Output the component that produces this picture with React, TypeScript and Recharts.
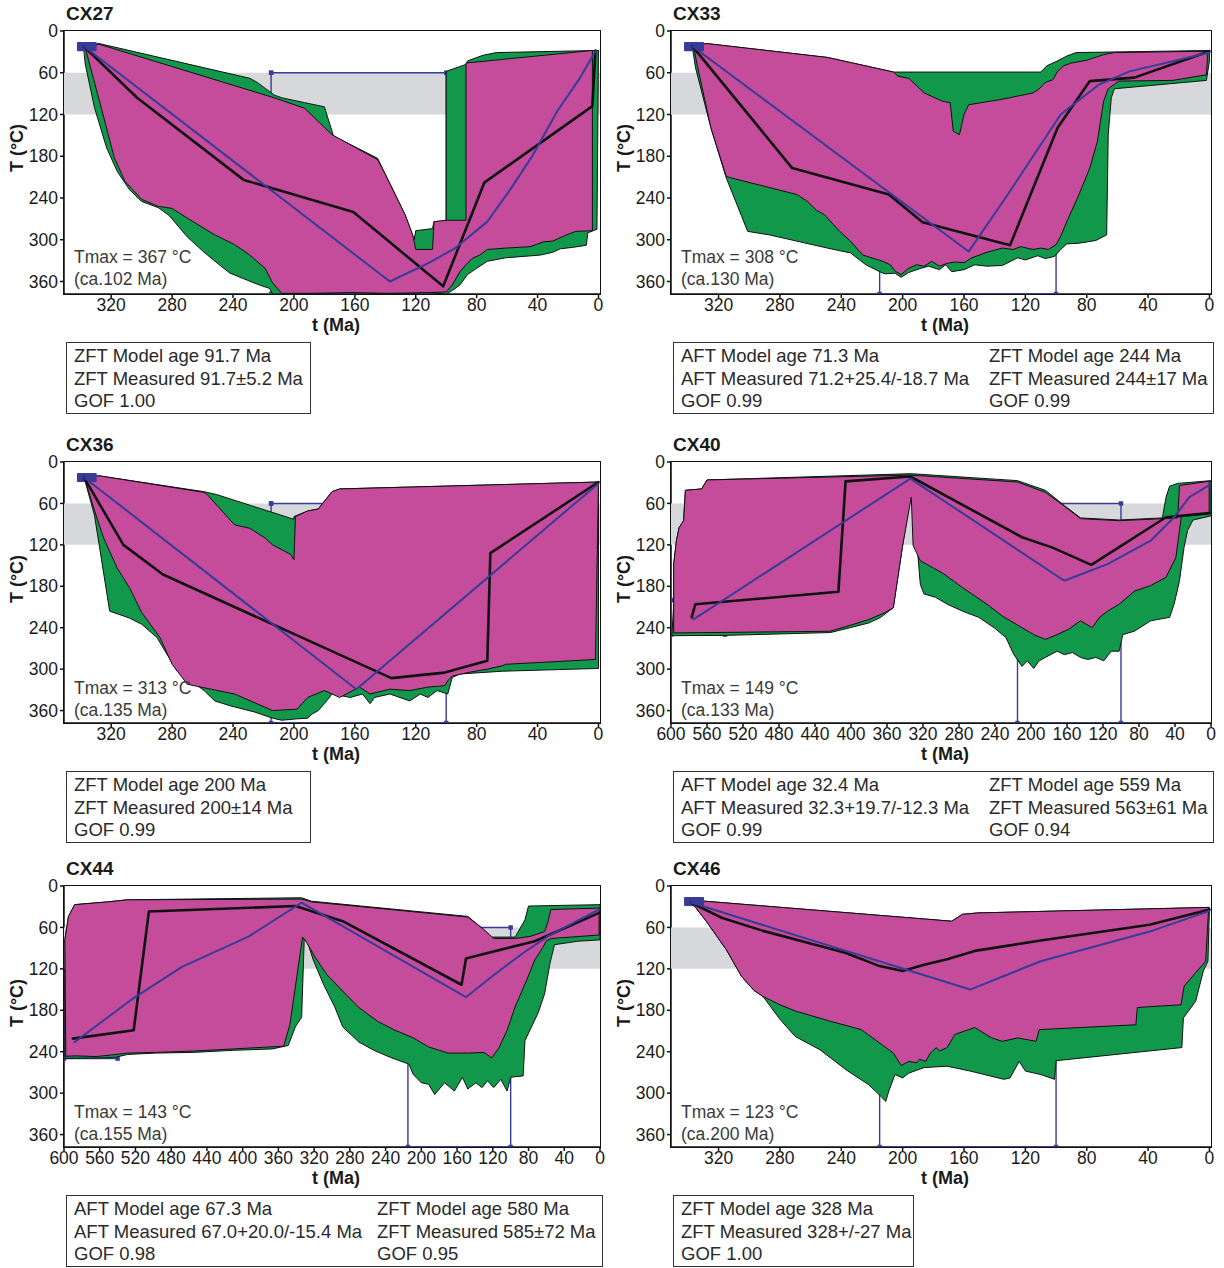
import React from 'react';
import { ComposedChart, XAxis, YAxis, Scatter } from 'recharts';

const FONT = '"Liberation Sans", Arial, Helvetica, sans-serif';
const GREEN = '#12984a';
const MAGENTA = '#c44c9b';
const BAND = '#d6d8db';
const BLUE = '#393b98';
const INK = '#1a1a1a';

// ---------- axes ----------
const yTicks = [0, 60, 120, 180, 240, 300, 360];
const yDomain = [0, 378];
const xTicks350 = [320, 280, 240, 200, 160, 120, 80, 40, 0];
const xTicks600 = [600, 560, 520, 480, 440, 400, 360, 320, 280, 240, 200, 160, 120, 80, 40, 0];
const xDomain350 = [-1, 351];
const xDomain600 = [0, 600];

// ---------- shared constraints (t Ma, T °C) ----------
const band350 = [[351, 60], [-1, 60], [-1, 120], [351, 120]];
const band600 = [[600, 60], [0, 60], [0, 120], [600, 120]];
const box215 = [[215, 60], [100, 60], [100, 378], [215, 378], [215, 60]];
const box600 = [[600, 200], [540, 200], [540, 250], [600, 250], [600, 200]];
const start350 = [[342, 17], [330, 17], [330, 28], [342, 28]];

// ---------- CX27 ----------
const cx27Green = [[338,22],[328,18],[229,68],[224,74],[213,92],[208,96],[193,103],[180,109],[174,151],[145,183],[140,206],[127,264],[121,300],[120,287],[109,284],[108,274],[100,273],[100,58],[87,48],[86,43],[76,35],[67,31],[0,28],[1,285],[7,290],[8,308],[17,311],[25,313],[30,318],[38,322],[61,326],[73,331],[80,341],[86,350],[91,365],[96,373],[100,378],[112,376],[137,377],[163,376],[188,377],[214,378],[216,370],[224,364],[242,348],[249,336],[259,318],[270,296],[282,265],[289,254],[300,245],[308,228],[316,202],[323,168],[331,110],[337,48]];
const cx27Magenta = [[337,22],[328,19],[213,96],[193,111],[175,149],[145,185],[140,206],[127,264],[122,293],[120,314],[109,314],[108,274],[100,272],[87,272],[87,46],[4,28],[4,287],[15,288],[22,294],[30,302],[36,303],[45,310],[61,312],[73,314],[78,322],[83,327],[87,336],[91,346],[96,365],[100,375],[112,376],[137,377],[163,376],[188,377],[208,377],[214,362],[219,341],[229,322],[239,307],[252,293],[270,269],[280,255],[289,252],[300,242],[311,216],[318,182],[326,115],[335,41]];
const cx27Best = [[338,22],[303,96],[233,214],[161,260],[102,367],[75,218],[4,108],[2,28]];
const cx27Mean = [[338,22],[137,360],[112,334],[94,312],[73,274],[58,228],[43,178],[27,115],[12,67],[2,29]];

// ---------- CX33 ----------
const cx33Green = [[337,22],[328,18],[249,38],[206,59],[110,59],[106,50],[100,44],[93,36],[87,31],[0,28],[0,43],[2,71],[62,83],[64,96],[66,149],[67,293],[74,301],[85,305],[93,306],[97,314],[101,324],[107,327],[112,323],[120,329],[125,326],[135,337],[145,338],[153,336],[160,343],[168,346],[172,336],[176,343],[183,338],[188,341],[196,347],[201,354],[205,348],[211,349],[213,348],[224,336],[234,319],[249,312],[269,302],[287,293],[301,288],[315,211],[325,139],[335,53],[337,24]];
const cx33Magenta = [[336,22],[328,18],[249,38],[206,59],[203,65],[196,68],[186,89],[174,101],[169,103],[167,144],[163,149],[160,120],[157,106],[135,98],[115,89],[111,83],[107,74],[102,70],[99,58],[95,50],[90,46],[80,42],[69,34],[62,31],[1,29],[2,63],[24,71],[59,72],[66,83],[69,101],[73,158],[78,197],[86,240],[92,269],[97,295],[100,307],[105,314],[110,312],[115,314],[123,310],[128,314],[135,312],[140,315],[145,318],[150,322],[155,326],[160,333],[166,332],[171,334],[176,338],[181,331],[186,338],[191,336],[196,341],[201,350],[205,345],[208,336],[213,331],[226,322],[234,302],[241,288],[251,264],[256,258],[262,245],[269,235],[312,211],[315,209],[325,139],[334,48]];
const cx33Best = [[337,22],[272,197],[209,235],[187,275],[130,308],[99,139],[78,72],[49,67],[0,29]];
const cx33Mean = [[337,22],[157,317],[133,240],[97,120],[72,77],[52,58],[0,31]];

// ---------- CX36 ----------
const cx36Green = [[338,22],[328,20],[259,43],[251,47],[200,83],[200,79],[191,71],[184,68],[175,43],[170,39],[0,29],[0,299],[63,303],[91,307],[96,312],[99,336],[106,331],[112,341],[117,336],[124,346],[137,336],[147,341],[150,350],[155,336],[163,341],[175,336],[180,350],[184,360],[188,365],[191,371],[198,372],[208,374],[214,371],[226,362],[242,353],[252,346],[259,331],[277,302],[290,254],[300,235],[308,226],[321,216],[331,77],[337,29]];
const cx36Magenta = [[337,22],[328,20],[259,44],[257,47],[239,91],[229,96],[219,110],[214,120],[202,134],[200,142],[199,79],[191,71],[184,68],[175,43],[170,39],[0,29],[2,286],[61,293],[63,295],[73,300],[86,305],[96,310],[99,317],[101,324],[112,326],[124,331],[137,329],[150,336],[157,326],[170,341],[180,331],[191,341],[198,358],[214,360],[239,336],[270,322],[280,293],[288,254],[300,218],[308,182],[316,154],[325,110],[330,77],[336,34]];
const cx36Best = [[338,22],[312,120],[286,163],[136,313],[101,305],[73,288],[71,132],[0,29]];
const cx36Mean = [[338,22],[159,329],[0,31]];

// ---------- CX40 ----------
const cx40Green = [[599,251],[597,206],[597,148],[594,114],[591,95],[586,85],[584,41],[566,39],[560,26],[336,17],[332,17],[215,27],[184,41],[163,63],[145,81],[102,84],[54,81],[50,51],[46,35],[37,31],[0,27],[0,78],[20,84],[26,99],[30,124],[35,172],[41,206],[46,225],[67,230],[85,245],[98,250],[102,274],[111,274],[119,288],[128,283],[137,286],[145,283],[154,276],[163,279],[171,274],[184,283],[191,288],[197,299],[204,288],[210,296],[219,279],[228,254],[241,240],[258,225],[276,216],[293,206],[306,196],[319,191],[323,177],[328,99],[332,49],[334,46],[343,124],[353,211],[367,225],[380,233],[401,240],[423,247],[536,251]];
const cx40Magenta = [[597,247],[597,206],[597,148],[594,114],[591,95],[586,85],[584,41],[566,39],[560,26],[334,19],[215,29],[184,44],[163,64],[145,82],[102,85],[37,81],[35,34],[2,28],[2,75],[33,79],[35,99],[39,138],[50,167],[67,179],[85,187],[102,206],[115,216],[124,225],[132,240],[145,230],[158,242],[171,250],[184,257],[197,250],[210,240],[232,223],[249,206],[276,182],[297,162],[323,143],[331,121],[333,51],[343,124],[353,211],[362,218],[380,228],[397,235],[423,245]];
const cx40Best = [[577,225],[573,206],[414,188],[406,28],[334,21],[210,109],[176,124],[133,149],[50,80],[2,74]];
const cx40Mean = [[575,228],[334,24],[163,172],[115,148],[67,114],[41,80],[24,51],[0,32]];

// ---------- CX44 ----------
const cx44Green = [[599,249],[599,78],[595,44],[588,27],[551,23],[529,20],[334,17],[323,22],[148,44],[135,58],[121,74],[95,74],[84,49],[80,29],[0,27],[0,78],[25,80],[51,85],[56,112],[62,156],[69,183],[84,224],[86,275],[100,277],[104,297],[111,280],[119,292],[126,282],[132,292],[139,285],[148,294],[154,277],[163,297],[174,285],[185,302],[192,287],[200,285],[209,273],[214,258],[235,248],[253,238],[270,226],[288,204],[297,175],[310,141],[321,107],[327,83],[331,74],[334,190],[341,204],[349,231],[367,236],[411,238],[455,241],[498,242],[529,244],[542,248],[560,249]];
const cx44Magenta = [[598,246],[599,78],[595,44],[588,27],[551,23],[529,20],[334,19],[323,23],[148,45],[130,63],[119,76],[95,76],[78,73],[62,66],[58,51],[55,34],[1,32],[1,71],[54,76],[60,79],[64,89],[73,107],[82,136],[95,175],[104,209],[113,234],[121,249],[130,241],[148,242],[170,242],[192,233],[209,220],[231,208],[249,196],[270,176],[292,147],[306,128],[319,103],[330,78],[333,74],[341,146],[347,200],[354,232],[411,236],[455,239],[498,241],[529,242],[542,244],[564,247],[586,246]];
const cx44Best = [[590,221],[522,209],[505,37],[341,29],[288,51],[155,143],[150,105],[73,80],[1,39]];
const cx44Mean = [[588,226],[525,165],[468,117],[393,73],[334,24],[150,161],[121,131],[86,97],[56,71],[1,34]];

// ---------- CX46 ----------
const cx46Green = [[339,24],[329,22],[168,51],[161,41],[151,39],[0,31],[1,109],[4,123],[9,167],[17,191],[18,234],[100,253],[101,280],[110,273],[120,268],[124,254],[130,278],[134,280],[156,268],[171,261],[186,263],[196,271],[200,278],[205,273],[209,297],[211,312],[214,305],[222,288],[237,266],[254,237],[270,218],[280,193],[291,160],[297,151],[305,131],[315,92],[328,51],[335,31]];
const cx46Magenta = [[338,24],[329,22],[168,51],[161,41],[151,39],[0.5,31],[2.5,109],[16.5,145],[18.5,172],[47,176],[48,201],[111,208],[113,225],[125,220],[135,225],[142,220],[153,205],[166,215],[171,234],[176,239],[178,234],[182,242],[185,254],[189,251],[191,256],[196,254],[201,260],[206,242],[227,208],[247,196],[270,181],[280,172],[291,160],[297,151],[305,131],[315,92],[328,51],[335,31]];
const cx46Best = [[338,24],[318,46],[291,65],[257,85],[237,97],[215,116],[200,123],[186,114],[171,106],[153,94],[110,79],[39,56],[0,34]];
const cx46Mean = [[338,24],[156,150],[110,109],[39,66],[0,36]];

// ---------- texts ----------
const titles = ['CX27', 'CX33', 'CX36', 'CX40', 'CX44', 'CX46'];
const tmaxTexts = [
  ['Tmax = 367 °C', '(ca.102 Ma)'],
  ['Tmax = 308 °C', '(ca.130 Ma)'],
  ['Tmax = 313 °C', '(ca.135 Ma)'],
  ['Tmax = 149 °C', '(ca.133 Ma)'],
  ['Tmax = 143 °C', '(ca.155 Ma)'],
  ['Tmax = 123 °C', '(ca.200 Ma)'],
];
const infoTexts = [
  [['ZFT Model age 91.7 Ma', 'ZFT Measured 91.7±5.2 Ma', 'GOF 1.00']],
  [['AFT Model age 71.3 Ma', 'AFT Measured 71.2+25.4/-18.7 Ma', 'GOF 0.99'], ['ZFT Model age 244 Ma', 'ZFT Measured 244±17 Ma', 'GOF 0.99']],
  [['ZFT Model age 200 Ma', 'ZFT Measured 200±14 Ma', 'GOF 0.99']],
  [['AFT Model age 32.4 Ma', 'AFT Measured 32.3+19.7/-12.3 Ma', 'GOF 0.99'], ['ZFT Model age 559 Ma', 'ZFT Measured 563±61 Ma', 'GOF 0.94']],
  [['AFT Model age 67.3 Ma', 'AFT Measured 67.0+20.0/-15.4 Ma', 'GOF 0.98'], ['ZFT Model age 580 Ma', 'ZFT Measured 585±72 Ma', 'GOF 0.95']],
  [['ZFT Model age 328 Ma', 'ZFT Measured 328+/-27 Ma', 'GOF 1.00']],
];

type Pt = { t: number; T: number };
const toPts = (a: number[][]): Pt[] => a.map(([t, T]) => ({ t, T }));

const polyLine = (fill: string, stroke: string, sw: number, close: boolean) => (props: any) => {
  const raw = props && props.points ? props.points : [];
  const pts = raw.filter((p: any) => p && Number.isFinite(p.x) && Number.isFinite(p.y));
  if (pts.length < 2) return <g />;
  const d =
    pts.map((p: any, i: number) => (i ? 'L' : 'M') + p.x.toFixed(2) + ',' + p.y.toFixed(2)).join(' ') +
    (close ? ' Z' : '');
  return (
    <path d={d} fill={fill} stroke={stroke} strokeWidth={sw} strokeLinejoin="round" strokeLinecap="round" />
  );
};
const noShape = () => <g />;
const cornerShape = (p: any) => <rect x={p.cx - 2.2} y={p.cy - 2.2} width={4.4} height={4.4} fill={BLUE} />;

type PanelCfg = {
  idx: number;
  x0: number;
  top: number;
  plotW: number;
  plotH: number;
  wide: boolean;
  green: number[][];
  magenta: number[][];
  best: number[][];
  mean: number[][];
  infoW: number;
  col2: number;
};

const LEFT_X = 0;
const RIGHT_X = 607;
const panels: PanelCfg[] = [
  { idx: 0, x0: LEFT_X, top: 31, plotW: 536, plotH: 263, wide: false, green: cx27Green, magenta: cx27Magenta, best: cx27Best, mean: cx27Mean, infoW: 245, col2: 0 },
  { idx: 1, x0: RIGHT_X, top: 31, plotW: 540, plotH: 263, wide: false, green: cx33Green, magenta: cx33Magenta, best: cx33Best, mean: cx33Mean, infoW: 541, col2: 315 },
  { idx: 2, x0: LEFT_X, top: 462, plotW: 536, plotH: 261, wide: false, green: cx36Green, magenta: cx36Magenta, best: cx36Best, mean: cx36Mean, infoW: 245, col2: 0 },
  { idx: 3, x0: RIGHT_X, top: 462, plotW: 540, plotH: 261, wide: true, green: cx40Green, magenta: cx40Magenta, best: cx40Best, mean: cx40Mean, infoW: 541, col2: 315 },
  { idx: 4, x0: LEFT_X, top: 886, plotW: 536, plotH: 261, wide: true, green: cx44Green, magenta: cx44Magenta, best: cx44Best, mean: cx44Mean, infoW: 537, col2: 310 },
  { idx: 5, x0: RIGHT_X, top: 886, plotW: 540, plotH: 261, wide: false, green: cx46Green, magenta: cx46Magenta, best: cx46Best, mean: cx46Mean, infoW: 241, col2: 0 },
];

const tickStyle = { fontSize: 17.5, fill: INK, fontFamily: FONT };

function Panel({ p }: { p: PanelCfg }) {
  const plotLeft = p.x0 + 64;
  const boxes = p.wide ? [box600, box215] : [box215];
  const info = infoTexts[p.idx];
  const tm = tmaxTexts[p.idx];
  return (
    <>
      <div style={{ position: 'absolute', left: p.x0, top: p.top - 10 }}>
        <ComposedChart
          width={64 + p.plotW + 8}
          height={10 + p.plotH + 40}
          margin={{ top: 10, right: 8, bottom: 0, left: 0 }}
        >
          <XAxis
            type="number"
            dataKey="t"
            domain={p.wide ? xDomain600 : xDomain350}
            ticks={p.wide ? xTicks600 : xTicks350}
            reversed
            allowDataOverflow
            interval={0}
            height={40}
            tick={tickStyle}
            tickSize={4}
            tickMargin={1}
            stroke="#111"
            strokeWidth={1.5}
          />
          <YAxis
            type="number"
            dataKey="T"
            domain={yDomain}
            ticks={yTicks}
            reversed
            allowDataOverflow
            interval={0}
            width={64}
            tick={tickStyle}
            tickSize={4}
            tickMargin={2}
            stroke="#111"
            strokeWidth={1.5}
          />
          <Scatter
            data={toPts(p.wide ? band600 : band350)}
            line={polyLine(BAND, 'none', 0, true)}
            shape={noShape}
            isAnimationActive={false}
            legendType="none"
          />
          {boxes.map((b, i) => (
            <Scatter
              key={'box' + i}
              data={toPts(b)}
              line={polyLine('none', BLUE, 1.4, false)}
              shape={cornerShape}
              isAnimationActive={false}
              legendType="none"
            />
          ))}
          <Scatter
            data={toPts(p.green)}
            line={polyLine(GREEN, '#111', 1, true)}
            shape={noShape}
            isAnimationActive={false}
            legendType="none"
          />
          <Scatter
            data={toPts(p.magenta)}
            line={polyLine(MAGENTA, '#111', 1, true)}
            shape={noShape}
            isAnimationActive={false}
            legendType="none"
          />
          {!p.wide && (
            <Scatter
              data={toPts(start350)}
              line={polyLine(BLUE, BLUE, 1.5, true)}
              shape={noShape}
              isAnimationActive={false}
              legendType="none"
            />
          )}
          <Scatter
            data={toPts(p.best)}
            line={polyLine('none', '#111', 2.6, false)}
            shape={noShape}
            isAnimationActive={false}
            legendType="none"
          />
          <Scatter
            data={toPts(p.mean)}
            line={polyLine('none', BLUE, 2, false)}
            shape={noShape}
            isAnimationActive={false}
            legendType="none"
          />
        </ComposedChart>
      </div>
      {/* plot frame */}
      <div
        style={{
          position: 'absolute',
          left: plotLeft - 1,
          top: p.top - 1,
          width: p.plotW + 2,
          height: p.plotH + 2,
          border: '1.5px solid #111',
          boxSizing: 'border-box',
          pointerEvents: 'none',
        }}
      />
      {/* title */}
      <div
        style={{
          position: 'absolute',
          left: plotLeft + 2,
          top: p.top - 27,
          fontSize: 19,
          fontWeight: 'bold',
          lineHeight: '20px',
          color: INK,
          fontFamily: FONT,
        }}
      >
        {titles[p.idx]}
      </div>
      {/* y axis label */}
      <div
        style={{
          position: 'absolute',
          left: p.x0 + 17 - 40,
          top: p.top + 117 - 9,
          width: 80,
          height: 18,
          lineHeight: '18px',
          textAlign: 'center',
          transform: 'rotate(-90deg)',
          fontSize: 18,
          fontWeight: 'bold',
          color: INK,
          fontFamily: FONT,
          whiteSpace: 'nowrap',
        }}
      >
        T (°C)
      </div>
      {/* x axis label */}
      <div
        style={{
          position: 'absolute',
          left: plotLeft + p.plotW / 2 + 4 - 40,
          top: p.top + p.plotH + 31 - 9,
          width: 80,
          height: 18,
          lineHeight: '18px',
          textAlign: 'center',
          fontSize: 18,
          fontWeight: 'bold',
          color: INK,
          fontFamily: FONT,
          whiteSpace: 'nowrap',
        }}
      >
        t (Ma)
      </div>
      {/* Tmax */}
      <div
        style={{
          position: 'absolute',
          left: plotLeft + 10,
          top: p.top + 226 - 11,
          fontSize: 17.5,
          lineHeight: '22px',
          color: '#3a3a3a',
          fontFamily: FONT,
          whiteSpace: 'nowrap',
        }}
      >
        <div>{tm[0]}</div>
        <div>{tm[1]}</div>
      </div>
      {/* info box */}
      <div
        style={{
          position: 'absolute',
          left: plotLeft + 2,
          top: p.top + p.plotH + 48,
          width: p.infoW,
          height: 72,
          border: '1.5px solid #333',
          boxSizing: 'border-box',
          fontFamily: FONT,
          fontSize: 18.5,
          lineHeight: '22.5px',
          color: '#2a2a2a',
          whiteSpace: 'nowrap',
        }}
      >
        {info.map((col, ci) => (
          <div
            key={ci}
            style={{ position: 'absolute', left: ci === 0 ? 7 : p.col2, top: 2 }}
          >
            {col.map((line, li) => (
              <div key={li}>{line}</div>
            ))}
          </div>
        ))}
      </div>
    </>
  );
}

export default function App() {
  return (
    <div
      style={{
        position: 'absolute',
        left: 0,
        top: 0,
        width: 1224,
        height: 1268,
        background: '#fff',
        overflow: 'hidden',
      }}
    >
      {panels.map((p) => (
        <Panel key={p.idx} p={p} />
      ))}
    </div>
  );
}
